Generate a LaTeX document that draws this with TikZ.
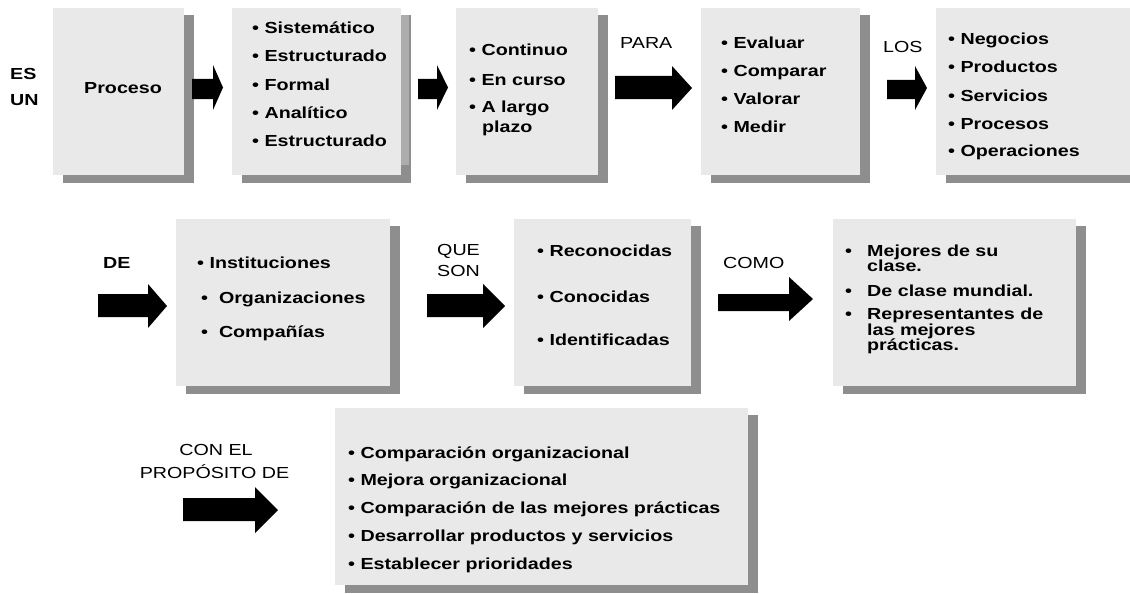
\documentclass[tikz,border=0pt]{standalone}
\usepackage{fontspec}
\setmainfont{Liberation Sans}[FakeStretch=1.23]
\definecolor{boxgray}{HTML}{E9E9E9}
\definecolor{shadgray}{HTML}{8E8E8E}
\definecolor{shadlight}{HTML}{ADADAD}
\newcommand\mybox[5]{%
  \fill[shadgray] (#2+10,#3+7) rectangle (#4+10,#5+8);
  \node[boxnode, anchor=north west, minimum width={#4-#2}, minimum height={#5-#3}] (#1) at (#2,#3) {};
}
% x0 = body left, x1 = head start, x2 = tip, body top/bottom, head top/bottom
\newcommand\blockarrow[7]{%
  \fill[black] (#1,#4) -- (#2,#4) -- (#2,#6) -- (#3,{(#6+#7)/2}) -- (#2,#7) -- (#2,#5) -- (#1,#5) -- cycle;
}
\begin{document}
\begin{tikzpicture}[x=1pt,y=-1pt,
  boxnode/.style={fill=boxgray, draw=none, inner sep=0pt, outer sep=0pt},
  itm/.style={anchor=base west, inner sep=0pt, font=\bfseries\fontsize{16}{19}\selectfont},
  lbl/.style={anchor=base west, inner sep=0pt, font=\fontsize{16}{19}\selectfont},
  lblb/.style={anchor=base west, inner sep=0pt, font=\bfseries\fontsize{16}{19}\selectfont}]
\useasboundingbox[fill=white] (0,0) rectangle (1130,594);

% ---------- Row 1 ----------
\node[lblb] (es) at (10,80) {ES};
\node[lblb] (un) at (10,106) {UN};
\mybox{b1}{53}{8}{184}{175}
\node[itm] (proceso) at (84,93) {Proceso};
\blockarrow{192}{213}{223}{79}{99}{65}{110}

\mybox{b2}{232}{8}{401}{175}
\fill[shadlight] (401,15) rectangle (409,165);
\foreach \t [count=\i] in {Sistemático,Estructurado,Formal,Analítico,Estructurado}
  \node[itm] (b2l\i) at (252,{34+28*(\i-1)}) {• \t};
\blockarrow{418}{437}{448}{79}{99}{65}{110}

\mybox{b3}{456}{8}{598}{175}
\node[itm] (b3l1) at (469,56) {• Continuo};
\node[itm] (b3l2) at (469,85) {• En curso};
\node[itm] (b3l3) at (469,113) {• A largo};
\node[itm] (b3l4) at (482,132) {plazo};

\node[lbl] (para) at (620,49) {PARA};
\blockarrow{615}{672}{692}{76}{99}{66}{110}

\mybox{b4}{701}{8}{860}{175}
\node[itm] (b4l1) at (721,49) {• Evaluar};
\node[itm] (b4l2) at (721,77) {• Comparar};
\node[itm] (b4l3) at (721,104) {• Valorar};
\node[itm] (b4l4) at (721,132) {• Medir};

\node[lbl] (los) at (883,53) {LOS};
\blockarrow{887}{915}{927}{80}{99}{66}{110}

\mybox{b5}{936}{8}{1140}{175}
\foreach \t/\yy [count=\i] in {Negocios/45,Productos/73,Servicios/101,Procesos/129,Operaciones/156}
  \node[itm] (b5l\i) at (948,\yy) {• \t};

% ---------- Row 2 ----------
\node[lblb] (de) at (103,268) {DE};
\blockarrow{98}{148}{167}{294}{317}{284}{328}

\mybox{b6}{176}{219}{390}{386}
\node[itm] (b6l1) at (197,268) {• Instituciones};
\node[itm] (b6l2) at (201,303) {•\ \ Organizaciones};
\node[itm] (b6l3) at (201,337) {•\ \ Compañías};

\node[lbl] (que) at (437,255) {QUE};
\node[lbl] (son) at (437,276) {SON};
\blockarrow{427}{483}{505}{294}{317}{284}{328}

\mybox{b7}{514}{219}{691}{386}
\node[itm] (b7l1) at (537,256) {• Reconocidas};
\node[itm] (b7l2) at (537,302) {• Conocidas};
\node[itm] (b7l3) at (537,345) {• Identificadas};

\node[lbl] (como) at (723,268) {COMO};
\blockarrow{718}{789}{813}{294}{311}{277}{321}

\mybox{b8}{833}{219}{1076}{386}
\node[itm] (b8d1) at (845,256) {•};
\node[itm] (b8l1) at (867,256) {Mejores de su};
\node[itm] (b8l2) at (867,271) {clase.};
\node[itm] (b8d2) at (845,296) {•};
\node[itm] (b8l3) at (867,296) {De clase mundial.};
\node[itm] (b8d3) at (845,319) {•};
\node[itm] (b8l4) at (867,319) {Representantes de};
\node[itm] (b8l5) at (867,335) {las mejores};
\node[itm] (b8l6) at (867,350) {prácticas.};

% ---------- Row 3 ----------
\node[lbl, anchor=base] (con) at (216,455) {CON EL};
\node[lbl, anchor=base] (prop) at (214.5,478) {PROPÓSITO DE};
\blockarrow{183}{255}{278}{498}{521}{487}{533}

\mybox{b9}{335}{408}{748}{585}
\foreach \t/\yy [count=\i] in {Comparación organizacional/458,Mejora organizacional/485,Comparación de las mejores prácticas/513,Desarrollar productos y servicios/541,Establecer prioridades/569}
  \node[itm] (b9l\i) at (348,\yy) {• \t};
\end{tikzpicture}
\end{document}
